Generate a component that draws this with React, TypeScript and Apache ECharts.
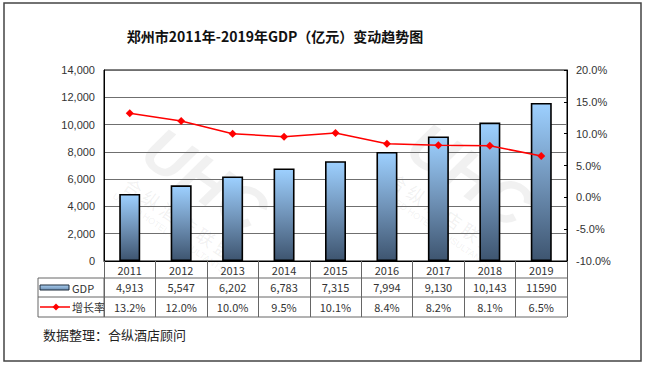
import React, { useEffect, useRef } from "react";
import * as echarts from "echarts";

const years = ["2011", "2012", "2013", "2014", "2015", "2016", "2017", "2018", "2019"];
const gdp = [4913, 5547, 6202, 6783, 7315, 7994, 9130, 10143, 11590];
const gdpLabels = ["4,913", "5,547", "6,202", "6,783", "7,315", "7,994", "9,130", "10,143", "11590"];
const growth = [13.2, 12.0, 10.0, 9.5, 10.1, 8.4, 8.2, 8.1, 6.5];
const growthLabels = growth.map((v) => v.toFixed(1) + "%");

const TITLE = "郑州市2011年-2019年GDP（亿元）变动趋势图";
const SOURCE = "数据整理：合纵酒店顾问";

export default function App() {
  const ref = useRef<HTMLDivElement>(null);
  useEffect(() => {
    if (!ref.current) return;
    const chart = echarts.init(ref.current, null, { renderer: "svg" });
    const L = 104, R = 567, T = 70, B = 261;
    const tableLeft = 38;
    const rowY = [278, 297, 317];
    const axisFont = { fontFamily: "Liberation Sans, Arial, sans-serif", fontSize: 11, color: "#333" };
    const tableFont = { fontFamily: "Noto Sans CJK SC, sans-serif", fontSize: 11, color: "#333" };
    const wmColor = "rgba(120,120,120,0.10)";
    const watermark = (x: number, y: number) => ({
      type: "group",
      x,
      y,
      rotation: -0.6,
      silent: true,
      children: [
        { type: "text", x: 0, y: 0, style: { text: "UHC", font: "bold italic 62px Liberation Sans", fill: wmColor, align: "center", verticalAlign: "middle" } },
        { type: "text", x: 0, y: 46, style: { text: "合 纵 酒 店 联 盟", font: "18px Noto Sans CJK SC", fill: wmColor, align: "center", verticalAlign: "middle" } },
        { type: "text", x: 0, y: 64, style: { text: "UNITED HOTEL CONSULTANTS", font: "9px Liberation Sans", fill: wmColor, align: "center", verticalAlign: "middle" } },
      ],
    });
    chart.setOption({
      animation: false,
      backgroundColor: "#fff",
      title: {
        text: TITLE,
        left: 270,
        textAlign: "center",
        top: 24,
        textStyle: { fontFamily: "Noto Sans CJK SC, sans-serif", fontSize: 14, fontWeight: "bold", color: "#111" },
      },
      grid: { left: L, right: 646 - R, top: T, bottom: 366 - B, show: true, borderColor: "#000", borderWidth: 1 },
      xAxis: [
        {
          type: "category",
          data: years,
          position: "bottom",
          boundaryGap: true,
          axisLine: { show: true, lineStyle: { color: "#000", width: 1 } },
          axisTick: { show: true, length: rowY[2] - B, lineStyle: { color: "#666" } },
          axisLabel: { ...tableFont, interval: 0, margin: 9, verticalAlign: "middle" },
          splitLine: { show: false },
        },
        {
          type: "category",
          data: gdpLabels,
          position: "bottom",
          axisLine: { show: false },
          axisTick: { show: false },
          axisLabel: { ...tableFont, interval: 0, margin: 26, verticalAlign: "middle" },
        },
        {
          type: "category",
          data: growthLabels,
          position: "bottom",
          axisLine: { show: false },
          axisTick: { show: false },
          axisLabel: { ...tableFont, interval: 0, margin: 46, verticalAlign: "middle" },
        },
      ],
      yAxis: [
        {
          type: "value",
          min: 0,
          max: 14000,
          interval: 2000,
          axisLine: { show: true, lineStyle: { color: "#000" } },
          axisTick: { show: false },
          axisLabel: { ...axisFont, margin: 9, formatter: (v: number) => v.toLocaleString("en-US") },
          splitLine: { show: true, lineStyle: { color: "#6f6f6f", width: 1 } },
        },
        {
          type: "value",
          min: -10,
          max: 20,
          interval: 5,
          position: "right",
          axisLine: { show: true, lineStyle: { color: "#000" } },
          axisTick: { show: true, inside: true, length: 3, lineStyle: { color: "#000" } },
          axisLabel: { ...axisFont, margin: 9, formatter: (v: number) => v.toFixed(1) + "%" },
          splitLine: { show: false },
        },
      ],
      series: [
        {
          name: "GDP",
          type: "bar",
          data: gdp,
          barWidth: 21,
          xAxisIndex: 0,
          yAxisIndex: 0,
          itemStyle: {
            color: new echarts.graphic.LinearGradient(0, 0, 0, 1, [
              { offset: 0, color: "#9DD0FF" },
              { offset: 0.5, color: "#7093B8" },
              { offset: 1, color: "#3E5570" },
            ]),
            borderColor: "#000",
            borderWidth: 1.6,
          },
          z: 2,
        },
        {
          name: "增长率",
          type: "line",
          data: growth,
          xAxisIndex: 0,
          yAxisIndex: 1,
          symbol: "diamond",
          symbolSize: 8,
          lineStyle: { color: "#FF0000", width: 1.5 },
          itemStyle: { color: "#FF0000" },
          z: 3,
        },
      ],
      graphic: [
        watermark(205, 180),
        watermark(470, 175),
        { type: "rect", shape: { x: 4, y: 3, width: 637, height: 358 }, style: { fill: "none", stroke: "#444", lineWidth: 1.5 }, silent: true },
        { type: "line", shape: { x1: tableLeft, y1: rowY[0], x2: R, y2: rowY[0] }, style: { stroke: "#666", lineWidth: 1 } },
        { type: "line", shape: { x1: tableLeft, y1: rowY[1], x2: R, y2: rowY[1] }, style: { stroke: "#666", lineWidth: 1 } },
        { type: "line", shape: { x1: tableLeft, y1: rowY[2], x2: R, y2: rowY[2] }, style: { stroke: "#666", lineWidth: 1 } },
        { type: "line", shape: { x1: tableLeft, y1: rowY[0], x2: tableLeft, y2: rowY[2] }, style: { stroke: "#666", lineWidth: 1 } },
        { type: "line", shape: { x1: L, y1: rowY[0], x2: L, y2: rowY[2] }, style: { stroke: "#666", lineWidth: 1 } },
        {
          type: "rect",
          shape: { x: 40, y: 285, width: 29, height: 5 },
          style: {
            fill: new echarts.graphic.LinearGradient(0, 0, 0, 1, [
              { offset: 0, color: "#A9CFF2" },
              { offset: 1, color: "#6E8FB2" },
            ]),
            stroke: "#1d2a3a",
            lineWidth: 1,
          },
        },
        { type: "text", x: 72, y: 287.5, style: { text: "GDP", font: "11px Noto Sans CJK SC", fill: "#333", verticalAlign: "middle" } },
        { type: "line", shape: { x1: 40, y1: 307, x2: 70, y2: 307 }, style: { stroke: "#FF0000", lineWidth: 1.5 } },
        { type: "polygon", shape: { points: [[56, 303.5], [59.5, 307], [56, 310.5], [52.5, 307]] }, style: { fill: "#FF0000" } },
        { type: "text", x: 72, y: 307, style: { text: "增长率", font: "11px Noto Sans CJK SC", fill: "#333", verticalAlign: "middle" } },
        { type: "text", x: 43, y: 334, style: { text: SOURCE, font: "13px Noto Sans CJK SC", fill: "#222", verticalAlign: "middle" } },
      ],
    });
    return () => chart.dispose();
  }, []);
  return <div ref={ref} style={{ position: "fixed", left: 0, top: 0, width: 646, height: 366 }} />;
}
